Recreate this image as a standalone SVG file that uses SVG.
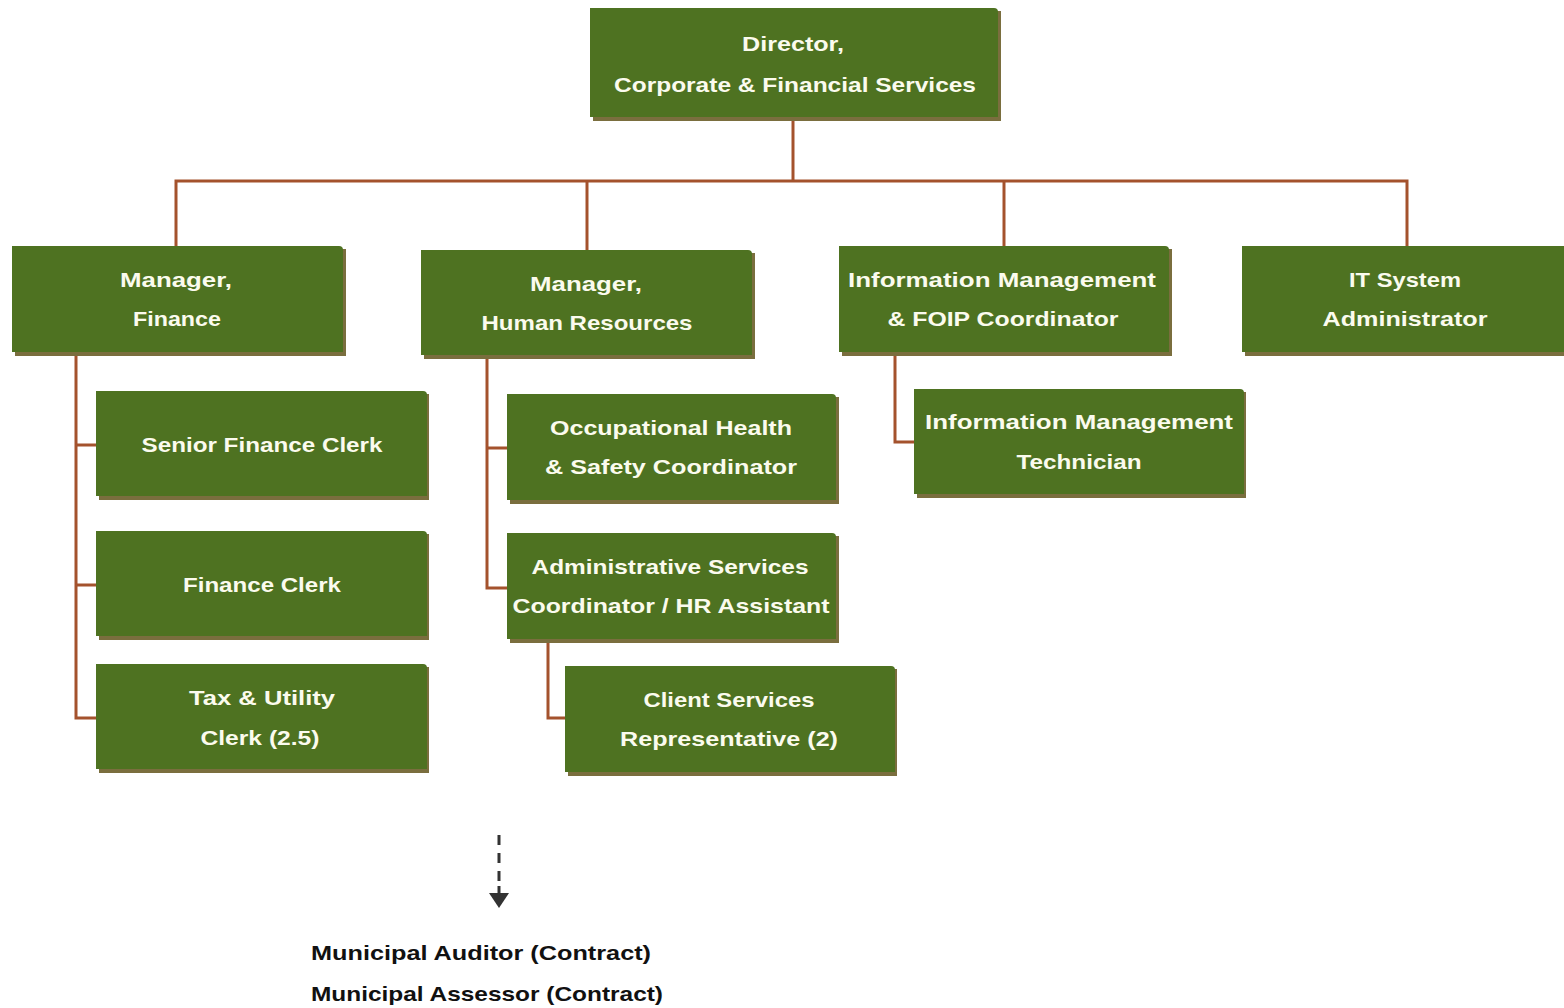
<svg xmlns="http://www.w3.org/2000/svg" width="1564" height="1008" viewBox="0 0 1564 1008">
  <defs>
    <style>
      .box { fill: #4e7221; }
      .shadow { fill: #7a6e3e; }
      .lbl { font-family: "Liberation Sans", Arial, sans-serif; font-weight: bold; font-size: 21px; fill: #fbfbee; text-anchor: middle; }
      .note { font-family: "Liberation Sans", Arial, sans-serif; font-weight: bold; font-size: 21px; fill: #111111; }
      .link { fill: none; stroke: #a4522d; stroke-width: 3; }
    </style>
    <marker id="arrowDown" markerWidth="10" markerHeight="10" refX="5" refY="9" orient="auto" markerUnits="userSpaceOnUse" viewBox="0 0 10 10">
      <path d="M0,2 L10,2 L5,9 Z" fill="#333333"/>
    </marker>
  </defs>
  <rect width="1564" height="1008" fill="#ffffff"/>

  <!-- connectors -->
  <g id="connectors">
    <path class="link" d="M793,118 V181"/>
    <path class="link" d="M176,246 V181 H1407 V246"/>
    <path class="link" d="M587,250 V181"/>
    <path class="link" d="M1004,246 V181"/>
    <path class="link" d="M76,353 V718 H96 M76,445 H96 M76,585 H96"/>
    <path class="link" d="M487,356 V588 H507 M487,448 H507"/>
    <path class="link" d="M548,640 V718 H565"/>
    <path class="link" d="M895,353 V442 H914"/>
    <path d="M499,835 V884" fill="none" stroke="#333333" stroke-width="3" stroke-dasharray="10,8"/>
    <path d="M489,893 L509,893 L499,908 Z" fill="#333333"/>
    <path d="M499,886 V895" stroke="#333333" stroke-width="3"/>
  </g>

  <!-- director -->
  <g id="director">
    <rect class="shadow" x="593" y="11" width="408" height="110"/>
    <path class="box" d="M590,8 H994 Q998,8 998,12 V117 H590 Z"/>
    <text class="lbl" x="793" y="51" textLength="102" lengthAdjust="spacingAndGlyphs">Director,</text>
    <text class="lbl" x="795" y="92" textLength="362" lengthAdjust="spacingAndGlyphs">Corporate &amp; Financial Services</text>
  </g>

  <!-- manager finance -->
  <g id="manager-finance">
    <rect class="shadow" x="15" y="249" width="331" height="107"/>
    <path class="box" d="M12,246 H339 Q343,246 343,250 V352 H12 Z"/>
    <text class="lbl" x="176" y="287" textLength="112" lengthAdjust="spacingAndGlyphs">Manager,</text>
    <text class="lbl" x="177" y="326" textLength="88" lengthAdjust="spacingAndGlyphs">Finance</text>
  </g>

  <!-- manager hr -->
  <g id="manager-hr">
    <rect class="shadow" x="424" y="253" width="331" height="106"/>
    <path class="box" d="M421,250 H748 Q752,250 752,254 V355 H421 Z"/>
    <text class="lbl" x="586" y="291" textLength="112" lengthAdjust="spacingAndGlyphs">Manager,</text>
    <text class="lbl" x="587" y="330" textLength="211" lengthAdjust="spacingAndGlyphs">Human Resources</text>
  </g>

  <!-- info management & foip -->
  <g id="im-foip">
    <rect class="shadow" x="842" y="249" width="330" height="107"/>
    <path class="box" d="M839,246 H1165 Q1169,246 1169,250 V352 H839 Z"/>
    <text class="lbl" x="1002" y="287" textLength="308" lengthAdjust="spacingAndGlyphs">Information Management</text>
    <text class="lbl" x="1003" y="326" textLength="231" lengthAdjust="spacingAndGlyphs">&amp; FOIP Coordinator</text>
  </g>

  <!-- it system admin -->
  <g id="it-admin">
    <rect class="shadow" x="1245" y="249" width="322" height="107"/>
    <path class="box" d="M1242,246 H1564 V352 H1242 Z"/>
    <text class="lbl" x="1405" y="287" textLength="112" lengthAdjust="spacingAndGlyphs">IT System</text>
    <text class="lbl" x="1405" y="326" textLength="165" lengthAdjust="spacingAndGlyphs">Administrator</text>
  </g>

  <!-- senior finance clerk -->
  <g id="senior-finance-clerk">
    <rect class="shadow" x="99" y="394" width="330" height="106"/>
    <path class="box" d="M96,391 H423 Q427,391 427,395 V496 H96 Z"/>
    <text class="lbl" x="262" y="452" textLength="241" lengthAdjust="spacingAndGlyphs">Senior Finance Clerk</text>
  </g>

  <!-- finance clerk -->
  <g id="finance-clerk">
    <rect class="shadow" x="99" y="534" width="330" height="106"/>
    <path class="box" d="M96,531 H423 Q427,531 427,535 V636 H96 Z"/>
    <text class="lbl" x="262" y="592" textLength="158" lengthAdjust="spacingAndGlyphs">Finance Clerk</text>
  </g>

  <!-- tax & utility clerk -->
  <g id="tax-utility-clerk">
    <rect class="shadow" x="99" y="667" width="330" height="106"/>
    <path class="box" d="M96,664 H423 Q427,664 427,668 V769 H96 Z"/>
    <text class="lbl" x="262" y="705" textLength="146" lengthAdjust="spacingAndGlyphs">Tax &amp; Utility</text>
    <text class="lbl" x="260" y="745" textLength="119" lengthAdjust="spacingAndGlyphs">Clerk (2.5)</text>
  </g>

  <!-- ohs coordinator -->
  <g id="ohs-coordinator">
    <rect class="shadow" x="510" y="397" width="329" height="107"/>
    <path class="box" d="M507,394 H832 Q836,394 836,398 V500 H507 Z"/>
    <text class="lbl" x="671" y="435" textLength="242" lengthAdjust="spacingAndGlyphs">Occupational Health</text>
    <text class="lbl" x="671" y="474" textLength="252" lengthAdjust="spacingAndGlyphs">&amp; Safety Coordinator</text>
  </g>

  <!-- admin services coordinator -->
  <g id="admin-services">
    <rect class="shadow" x="510" y="536" width="329" height="107"/>
    <path class="box" d="M507,533 H832 Q836,533 836,537 V639 H507 Z"/>
    <text class="lbl" x="670" y="574" textLength="277" lengthAdjust="spacingAndGlyphs">Administrative Services</text>
    <text class="lbl" x="671" y="613" textLength="317" lengthAdjust="spacingAndGlyphs">Coordinator / HR Assistant</text>
  </g>

  <!-- client services representative -->
  <g id="client-services">
    <rect class="shadow" x="568" y="669" width="329" height="107"/>
    <path class="box" d="M565,666 H891 Q895,666 895,670 V772 H565 Z"/>
    <text class="lbl" x="729" y="707" textLength="171" lengthAdjust="spacingAndGlyphs">Client Services</text>
    <text class="lbl" x="729" y="746" textLength="218" lengthAdjust="spacingAndGlyphs">Representative (2)</text>
  </g>

  <!-- info management technician -->
  <g id="im-technician">
    <rect class="shadow" x="917" y="392" width="329" height="106"/>
    <path class="box" d="M914,389 H1240 Q1244,389 1244,393 V494 H914 Z"/>
    <text class="lbl" x="1079" y="429" textLength="308" lengthAdjust="spacingAndGlyphs">Information Management</text>
    <text class="lbl" x="1079" y="469" textLength="125" lengthAdjust="spacingAndGlyphs">Technician</text>
  </g>

  <!-- contract positions -->
  <g id="contracts">
    <text class="note" x="311" y="960" textLength="340" lengthAdjust="spacingAndGlyphs">Municipal Auditor (Contract)</text>
    <text class="note" x="311" y="1001" textLength="352" lengthAdjust="spacingAndGlyphs">Municipal Assessor (Contract)</text>
  </g>
</svg>
